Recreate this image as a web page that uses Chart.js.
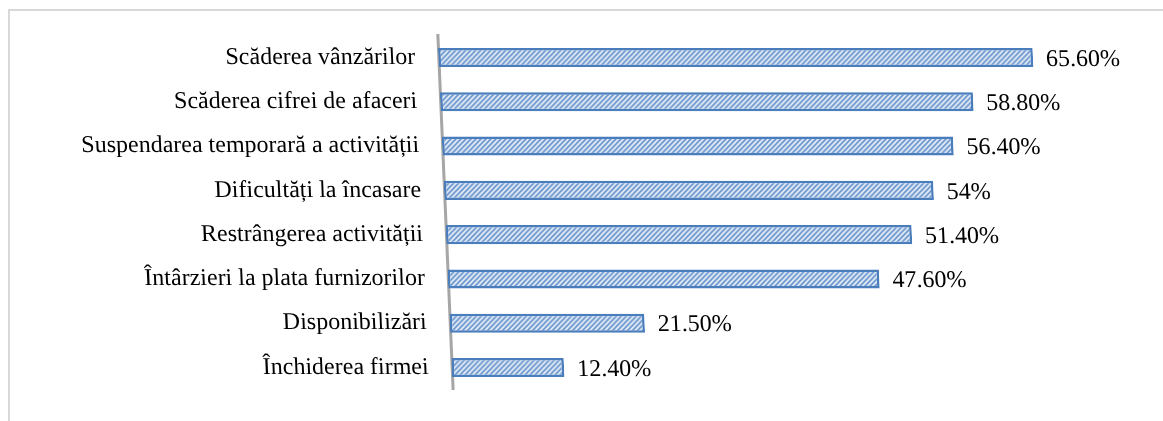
<!DOCTYPE html>
<html lang="ro">
<head>
  <meta charset="UTF-8">
  <title>Efecte asupra firmelor</title>
  <script src="https://cdn.jsdelivr.net/npm/chart.js"></script>
  <style>
    body {
      margin: 0;
      background: #fff;
      overflow: hidden;
    }
    .frame {
      position: absolute;
      left: 8px;
      top: 9px;
      width: 1300px;
      height: 600px;
      border-top: 2px solid #d9d9d9;
      border-left: 2px solid #d9d9d9;
    }
    .wrap {
      position: absolute;
      left: 0;
      top: -2px;
      width: 1163px;
      height: 429px;
    }
  </style>
</head>
<body>
  <div class="frame"></div>
  <div class="wrap">
    <canvas id="effectsChart"></canvas>
  </div>

  <script>
    const categories = [
      'Scăderea vânzărilor',
      'Scăderea cifrei de afaceri',
      'Suspendarea temporară a activității',
      'Dificultăți la încasare',
      'Restrângerea activității',
      'Întârzieri la plata furnizorilor',
      'Disponibilizări',
      'Închiderea firmei'
    ];
    const values = [65.6, 58.8, 56.4, 54, 51.4, 47.6, 21.5, 12.4];
    const valueLabels = ['65.60%', '58.80%', '56.40%', '54%', '51.40%', '47.60%', '21.50%', '12.40%'];

    const FONT = '"Liberation Serif", "Times New Roman", serif';
    const SHEAR = 0.043;

    // diagonal hatch fill like the original
    function makeHatch() {
      const s = 5;
      const c = document.createElement('canvas');
      c.width = s;
      c.height = s;
      const g = c.getContext('2d');
      g.fillStyle = '#dfe9f5';
      g.fillRect(0, 0, s, s);
      g.strokeStyle = '#6c97cd';
      g.lineWidth = 1.6;
      g.beginPath();
      g.moveTo(0, s); g.lineTo(s, 0);
      g.moveTo(-s, s); g.lineTo(s, -s);
      g.moveTo(0, 2 * s); g.lineTo(2 * s, 0);
      g.stroke();
      return g.createPattern(c, 'repeat');
    }

    // slight perspective slant of the whole plot
    const shearPlugin = {
      id: 'shear',
      beforeDraw(chart) {
        const ctx = chart.ctx;
        const a = chart.chartArea;
        const y0 = (a.top + a.bottom) / 2;
        ctx.save();
        ctx.transform(1, 0, SHEAR, 1, -SHEAR * y0, 0);
      },
      afterDraw(chart) {
        chart.ctx.restore();
      }
    };

    const valueLabelPlugin = {
      id: 'valueLabels',
      afterDatasetsDraw(chart) {
        const ctx = chart.ctx;
        const meta = chart.getDatasetMeta(0);
        ctx.save();
        ctx.font = '24px ' + FONT;
        ctx.fillStyle = '#000';
        ctx.textAlign = 'left';
        ctx.textBaseline = 'middle';
        meta.data.forEach((bar, i) => {
          ctx.fillText(valueLabels[i], bar.x + 13, bar.y + 2);
        });
        ctx.restore();
      }
    };

    const ctx = document.getElementById('effectsChart').getContext('2d');

    const effectsChart = new Chart(ctx, {
      type: 'bar',
      data: {
        labels: categories,
        datasets: [{
          data: values,
          backgroundColor: makeHatch(),
          borderColor: '#4a7dbb',
          borderWidth: 2.5,
          borderSkipped: false,
          barPercentage: 0.43,
          categoryPercentage: 1
        }]
      },
      options: {
        indexAxis: 'y',
        responsive: true,
        maintainAspectRatio: false,
        animation: false,
        layout: {
          padding: { top: 31.5, bottom: 26, left: 0, right: 88 }
        },
        plugins: {
          legend: { display: false },
          tooltip: { enabled: false }
        },
        scales: {
          x: {
            display: false,
            min: 0,
            max: 69.5
          },
          y: {
            grid: { display: false, drawTicks: false },
            border: { display: true, color: '#a6a6a6', width: 3 },
            ticks: {
              color: '#000',
              padding: 23,
              font: { family: FONT, size: 24 }
            },
            afterFit(scale) {
              scale.width = 445;
            }
          }
        }
      },
      plugins: [shearPlugin, valueLabelPlugin]
    });
  </script>
</body>
</html>
